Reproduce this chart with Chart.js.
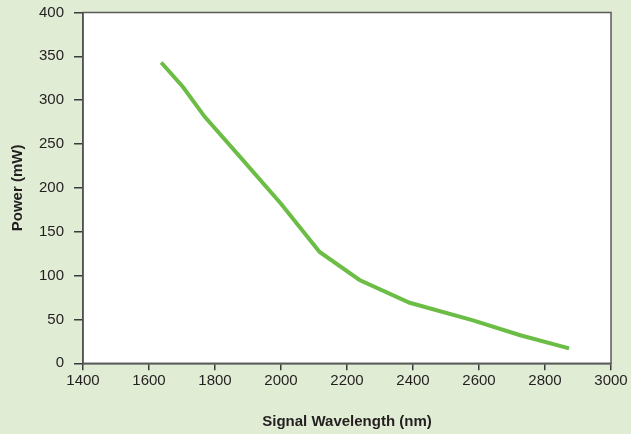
<!DOCTYPE html>
<html>
<head>
<meta charset="utf-8">
<script src="https://cdn.jsdelivr.net/npm/chart.js@4/dist/chart.umd.min.js"></script>
<style>
  html, body { margin: 0; padding: 0; background: #e1ecd4; }
  #wrap { width: 631px; height: 434px; position: relative; }
</style>
</head>
<body>
<div id="wrap"><canvas id="powerChart"></canvas></div>
<script>
// signal wavelength (nm) vs output power (mW)
const wavelengths = [1637, 1703, 1769, 1870, 2000, 2117, 2238, 2390, 2582, 2725, 2873];
const powers = [343, 315, 281, 238, 182, 127, 95, 69, 49, 32, 17];
const xTicks = [1400, 1600, 1800, 2000, 2200, 2400, 2600, 2800, 3000];
const yTicks = [0, 50, 100, 150, 200, 250, 300, 350, 400];

const fontFamily = "'Liberation Sans', Arial, sans-serif";
const inkColor = "#231f20";
const axisColor = "#3a3a3a";

const plotFramePlugin = {
  id: "plotFrame",
  beforeDraw(chart) {
    const { ctx, chartArea } = chart;
    ctx.save();
    ctx.fillStyle = "#ffffff";
    ctx.fillRect(chartArea.left, chartArea.top, chartArea.right - chartArea.left, chartArea.bottom - chartArea.top);
    ctx.restore();
  },
  afterDraw(chart) {
    const { ctx, chartArea } = chart;
    ctx.save();
    ctx.strokeStyle = "#5a5a5a";
    ctx.lineWidth = 1.5;
    ctx.strokeRect(chartArea.left, chartArea.top, chartArea.right - chartArea.left, chartArea.bottom - chartArea.top);
    ctx.restore();
  }
};

// keep the label overhang from pushing the plot area around
const noOverhang = (scale) => {
  scale.paddingTop = 0;
  scale.paddingBottom = 0;
  scale.paddingLeft = 0;
  scale.paddingRight = 0;
};

new Chart(document.getElementById("powerChart"), {
  type: "line",
  data: {
    datasets: [{
      label: "Power",
      data: wavelengths.map((x, i) => ({ x, y: powers[i] })),
      borderColor: "#6cbd45",
      borderWidth: 4,
      pointRadius: 0,
      tension: 0,
      fill: false
    }]
  },
  options: {
    responsive: true,
    maintainAspectRatio: false,
    animation: false,
    layout: {
      padding: { top: 12.5, right: 20, bottom: 0, left: 0 }
    },
    plugins: {
      legend: { display: false },
      tooltip: { enabled: false }
    },
    scales: {
      x: {
        type: "linear",
        min: 1400,
        max: 3000,
        afterBuildTicks(scale) {
          scale.ticks = xTicks.map((value) => ({ value }));
        },
        afterFit(scale) {
          scale.height = 70.7;
          noOverhang(scale);
        },
        border: { display: true, color: axisColor, width: 1.5 },
        grid: {
          drawOnChartArea: false,
          drawTicks: true,
          tickLength: 7,
          color: axisColor,
          lineWidth: 1.5
        },
        ticks: {
          color: inkColor,
          padding: 2,
          maxRotation: 0,
          font: { family: fontFamily, size: 15 },
          callback: (value) => String(value)
        },
        title: {
          display: true,
          text: "Signal Wavelength (nm)",
          color: inkColor,
          padding: { top: 0, bottom: 3 },
          font: { family: fontFamily, size: 15, weight: "bold" }
        }
      },
      y: {
        type: "linear",
        min: 0,
        max: 400,
        afterBuildTicks(scale) {
          scale.ticks = yTicks.map((value) => ({ value }));
        },
        afterFit(scale) {
          scale.width = 83;
          noOverhang(scale);
        },
        border: { display: true, color: axisColor, width: 1.5 },
        grid: {
          drawOnChartArea: false,
          drawTicks: true,
          tickLength: 9,
          color: axisColor,
          lineWidth: 1.5
        },
        ticks: {
          color: inkColor,
          padding: 10,
          font: { family: fontFamily, size: 15 },
          callback: (value) => String(value)
        },
        title: {
          display: true,
          text: "Power (mW)",
          color: inkColor,
          padding: { top: 9, bottom: 0 },
          font: { family: fontFamily, size: 15, weight: "bold" }
        }
      }
    }
  },
  plugins: [plotFramePlugin]
});
</script>
</body>
</html>
